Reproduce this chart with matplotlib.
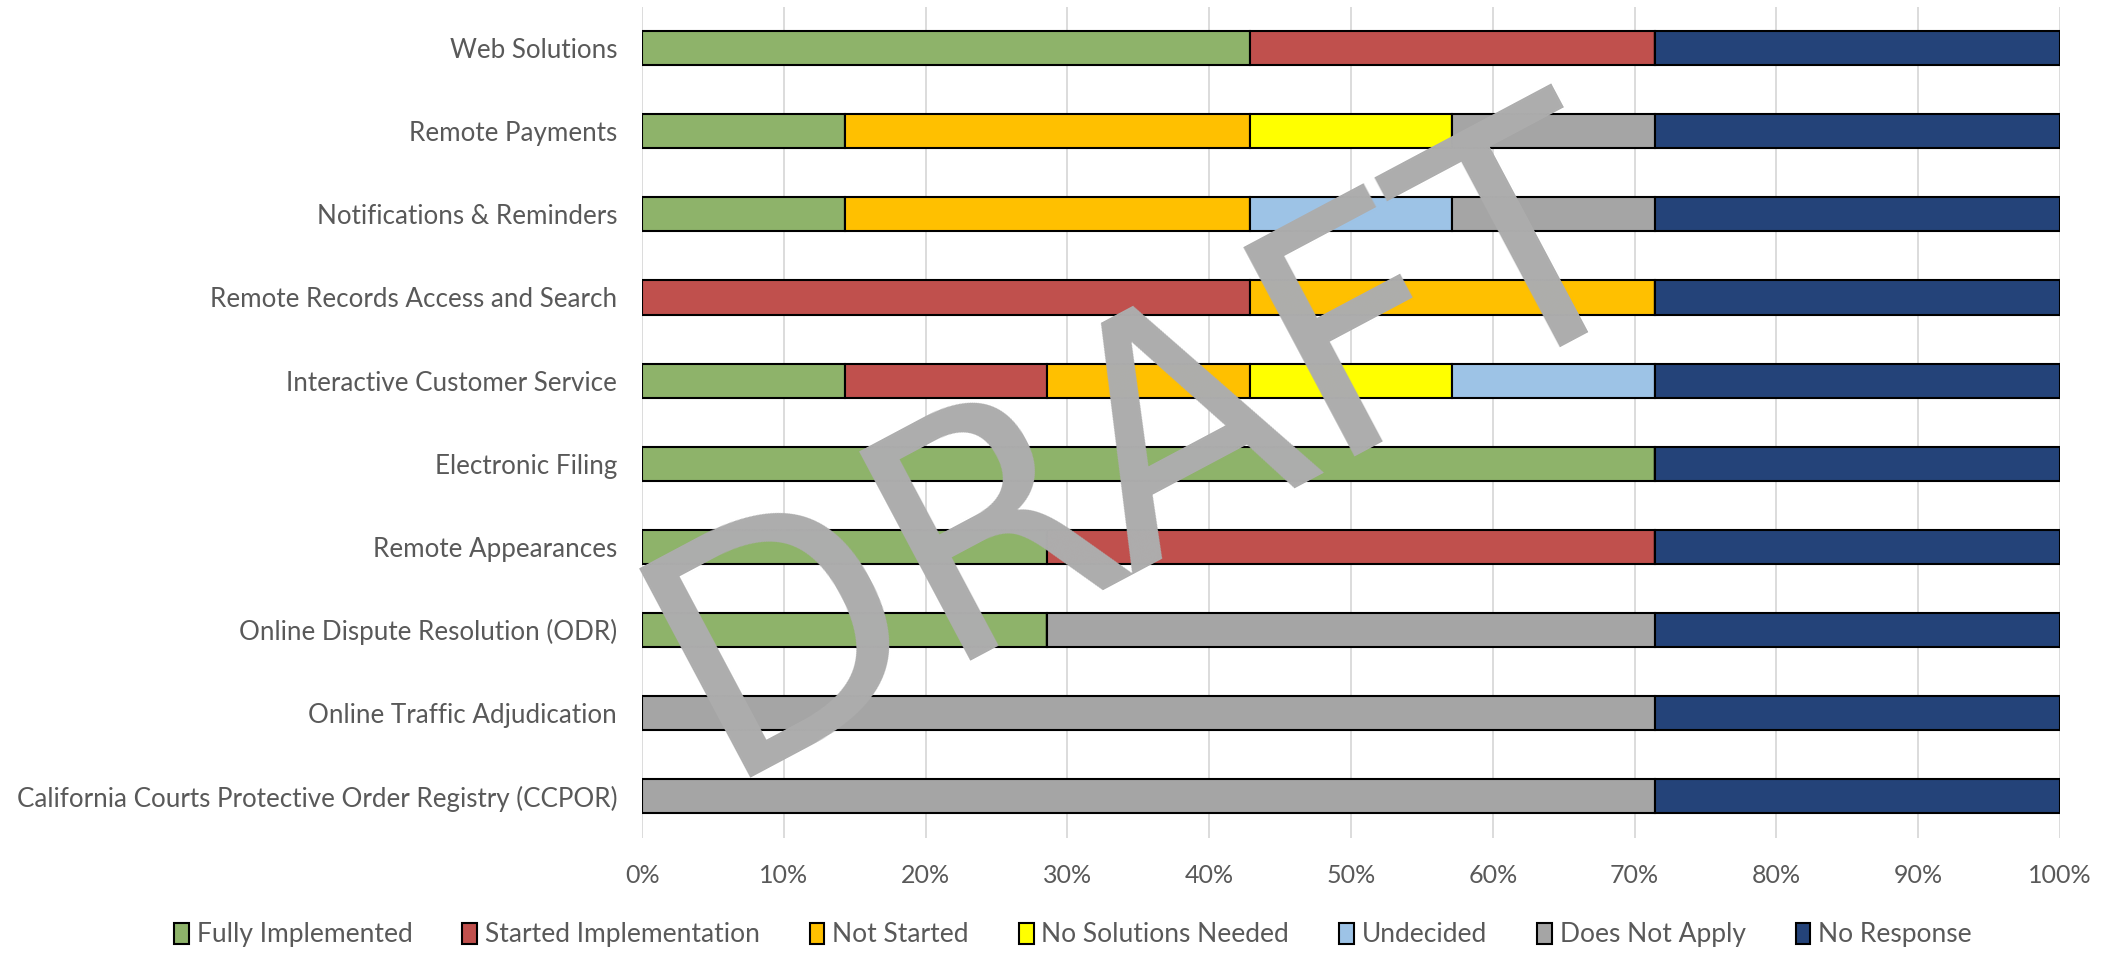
import numpy as np
import matplotlib
matplotlib.use("Agg")
import matplotlib.pyplot as plt

# categories, top to bottom
categories = [
    "Web Solutions",
    "Remote Payments",
    "Notifications & Reminders",
    "Remote Records Access and Search",
    "Interactive Customer Service",
    "Electronic Filing",
    "Remote Appearances",
    "Online Dispute Resolution (ODR)",
    "Online Traffic Adjudication",
    "California Courts Protective Order Registry (CCPOR)",
]

# share of responses (%) per status
fully_implemented = [42.86, 14.29, 14.29, 0, 14.29, 71.43, 28.57, 28.57, 0, 0]
started_impl      = [28.57, 0, 0, 42.86, 14.29, 0, 42.86, 0, 0, 0]
not_started       = [0, 28.57, 28.57, 28.57, 14.29, 0, 0, 0, 0, 0]
no_solutions      = [0, 14.29, 0, 0, 14.28, 0, 0, 0, 0, 0]
undecided         = [0, 0, 14.28, 0, 14.28, 0, 0, 0, 0, 0]
does_not_apply    = [0, 14.28, 14.28, 0, 0, 0, 0, 42.86, 71.43, 71.43]
no_response       = [28.57, 28.57, 28.57, 28.57, 28.57, 28.57, 28.57, 28.57, 28.57, 28.57]

series_names = ["Fully Implemented", "Started Implementation", "Not Started",
                "No Solutions Needed", "Undecided", "Does Not Apply", "No Response"]
series_vals = [fully_implemented, started_impl, not_started, no_solutions,
               undecided, does_not_apply, no_response]
colors = ["#8EB36A", "#C0504D", "#FFC000", "#FFFF00", "#9DC3E6", "#A5A5A5", "#244379"]

txt = "#595959"
plt.rcParams['font.family'] = ['Lato', 'DejaVu Sans']

fig = plt.figure(figsize=(21.08, 9.55), dpi=100)
ax = fig.add_axes([0.3046, 0.123, 0.6726, 0.870])

y = np.arange(len(categories))
left = np.zeros(len(categories))
handles = []
for name, vals, c in zip(series_names, series_vals, colors):
    vals = np.array(vals, dtype=float)
    h = ax.barh(y, vals, left=left, height=0.41, color=c, edgecolor="black",
                linewidth=1.5, label=name, zorder=3)
    handles.append(h)
    left += vals

ax.set_xlim(0, 100)
ax.set_ylim(len(categories) - 0.5, -0.5)
ax.set_yticks(y)
ax.set_yticklabels(categories, fontsize=18.7, color=txt)
ax.set_xticks(np.arange(0, 101, 10))
ax.set_xticklabels([f"{v}%" for v in range(0, 101, 10)], fontsize=18, color=txt)
ax.tick_params(axis="y", length=0, pad=18)
ax.tick_params(axis="x", length=0, pad=19)
ax.grid(axis="x", color="#D9D9D9", linewidth=1.3, zorder=0)
ax.set_axisbelow(True)
for s in ax.spines.values():
    s.set_visible(False)

fig.legend(handles=handles, labels=series_names, loc="center", ncol=7,
           bbox_to_anchor=(0.509, 0.021), frameon=False, fontsize=19,
           labelcolor=txt, handlelength=0.55, handleheight=0.85,
           handletextpad=0.3, columnspacing=1.9)

# watermark
fig.text(0.5635, 0.447, "DRAFT", rotation=28, rotation_mode="anchor",
         ha="center", va="baseline", fontsize=234, color="#ADADAD",
         family=["Liberation Sans Narrow", "DejaVu Sans"], zorder=10)

fig.savefig("out.png", dpi=100)
